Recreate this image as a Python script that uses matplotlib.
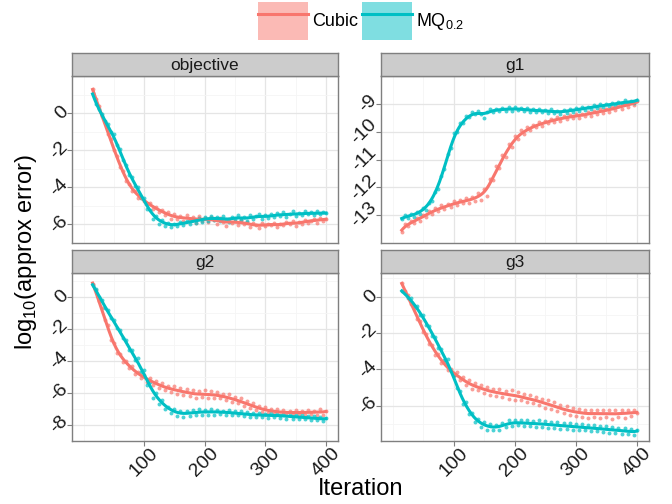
import numpy as np
import matplotlib
matplotlib.use('Agg')
import matplotlib.pyplot as plt
from matplotlib.patches import Patch
from matplotlib.lines import Line2D

plt.rcParams['font.family'] = ['Liberation Sans', 'DejaVu Sans']
plt.rcParams['axes.unicode_minus'] = False
plt.rcParams['mathtext.fontset'] = 'custom'
plt.rcParams['mathtext.rm'] = 'Liberation Sans'

RED = '#F8766D'
CYAN = '#00BFC4'

# iteration of each plotted point
iters = np.arange(15, 401, 5)

obj_cubic = [1.3, 0.75, 0.4, -0.15, -0.5, -1.1, -1.4, -2.0, -2.3, -2.9,
             -3.1, -3.65, -3.8, -4.2, -4.2, -4.55, -4.5, -4.75, -4.9, -4.85,
             -5.15, -5.05, -5.35, -5.2, -5.5, -5.35, -5.7, -5.45, -5.7, -5.55,
             -5.8, -5.5, -5.75, -5.6, -5.9, -5.55, -5.8, -5.65, -5.85, -5.6,
             -5.75, -5.95, -5.65, -5.85, -6.1, -5.7, -5.9, -5.8, -6.05, -5.75,
             -6.0, -5.85, -6.15, -5.9, -6.05, -6.2, -5.9, -6.1, -5.95, -6.05,
             -5.9, -6.15, -5.95, -6.05, -5.85, -6.0, -5.8, -6.1, -5.85, -5.95,
             -5.75, -5.9, -5.8, -5.7, -5.9, -5.65, -5.8, -5.7]
obj_mq = [1.1, 0.5, 0.2, -0.05, -0.45, -0.6, -1.0, -1.15, -1.7, -1.95,
          -2.55, -2.8, -3.35, -3.45, -3.95, -4.0, -4.55, -4.6, -5.15, -5.2,
          -5.7, -5.55, -5.95, -5.75, -6.1, -5.9, -6.15, -5.95, -6.1, -5.85,
          -6.05, -5.8, -5.95, -5.75, -5.9, -5.65, -5.85, -5.6, -5.8, -5.55,
          -5.75, -5.6, -5.8, -5.55, -5.75, -5.85, -5.6, -5.7, -5.5, -5.75,
          -5.6, -5.8, -5.5, -5.7, -5.55, -5.45, -5.7, -5.5, -5.65, -5.45,
          -5.6, -5.4, -5.55, -5.35, -5.6, -5.45, -5.3, -5.55, -5.4, -5.5,
          -5.3, -5.45, -5.35, -5.5, -5.3, -5.45, -5.35, -5.4]

g1_cubic = [-13.6, -13.3, -13.4, -13.2, -13.28, -13.1, -13.2, -12.98, -13.05, -12.85,
            -12.95, -12.75, -12.85, -12.65, -12.78, -12.6, -12.7, -12.5, -12.65, -12.45,
            -12.58, -12.4, -12.55, -12.35, -12.5, -12.2, -12.45, -12.05, -12.3, -11.7,
            -11.75, -11.25, -11.3, -10.85, -10.9, -10.45, -10.55, -10.15, -10.25, -9.95,
            -10.1, -9.85, -9.95, -9.75, -9.85, -9.65, -9.8, -9.6, -9.7, -9.55,
            -9.65, -9.48, -9.6, -9.45, -9.55, -9.4, -9.52, -9.38, -9.5, -9.35,
            -9.45, -9.3, -9.42, -9.25, -9.38, -9.2, -9.32, -9.18, -9.28, -9.12,
            -9.22, -9.05, -9.18, -9.0, -9.1, -8.95, -9.05, -8.9]
g1_mq = [-13.15, -13.0, -13.1, -12.95, -13.05, -12.9, -12.95, -12.75, -12.8, -12.55,
         -12.5, -12.15, -12.05, -11.6, -11.35, -10.8, -10.6, -10.05, -10.0, -9.7,
         -9.68, -9.45, -9.48, -9.3, -9.38, -9.25, -9.35, -9.5, -9.3, -9.2,
         -9.28, -9.18, -9.26, -9.15, -9.24, -9.13, -9.25, -9.12, -9.22, -9.15,
         -9.26, -9.16, -9.28, -9.18, -9.3, -9.2, -9.28, -9.22, -9.32, -9.2,
         -9.34, -9.24, -9.36, -9.22, -9.32, -9.18, -9.3, -9.15, -9.26, -9.12,
         -9.22, -9.1, -9.18, -9.05, -9.15, -9.02, -9.12, -9.0, -9.08, -8.98,
         -9.05, -8.92, -9.02, -8.88, -8.98, -8.9, -8.96, -8.85]

g2_cubic = [0.8, 0.4, -0.3, -0.7, -1.45, -1.8, -2.7, -2.9, -3.5, -3.55,
            -4.05, -4.0, -4.45, -4.35, -4.8, -4.7, -5.05, -4.9, -5.3, -5.1,
            -5.5, -5.25, -5.7, -5.4, -5.85, -5.55, -5.95, -5.6, -6.05, -5.7,
            -6.15, -5.75, -6.2, -5.85, -6.3, -5.9, -6.25, -5.85, -6.35, -5.9,
            -6.3, -5.95, -6.35, -6.05, -6.45, -6.1, -6.55, -6.25, -6.65, -6.35,
            -6.8, -6.5, -6.95, -6.65, -7.05, -6.8, -7.2, -6.9, -7.25, -7.0,
            -7.3, -7.0, -7.4, -7.05, -7.35, -7.1, -7.4, -7.05, -7.35, -7.1,
            -7.4, -7.05, -7.3, -7.1, -7.4, -7.0, -7.35, -7.1]
g2_mq = [0.7, 0.5, 0.0, -0.2, -0.7, -0.85, -1.35, -1.45, -1.95, -2.1,
         -2.6, -2.7, -3.3, -3.35, -3.95, -3.85, -4.7, -4.6, -5.5, -5.35,
         -6.3, -6.0, -6.7, -6.45, -7.0, -6.85, -7.25, -7.0, -7.45, -7.1,
         -7.5, -7.1, -7.45, -7.05, -7.4, -7.0, -7.35, -7.05, -7.35, -7.0,
         -7.35, -7.05, -7.3, -7.1, -7.35, -7.05, -7.4, -7.15, -7.4, -7.15,
         -7.45, -7.2, -7.5, -7.25, -7.5, -7.25, -7.5, -7.3, -7.55, -7.25,
         -7.5, -7.3, -7.55, -7.3, -7.6, -7.35, -7.6, -7.35, -7.65, -7.4,
         -7.65, -7.45, -7.7, -7.45, -7.7, -7.5, -7.75, -7.55]

g3_cubic = [0.75, 0.3, 0.1, -0.4, -0.6, -1.2, -1.35, -1.95, -2.05, -2.6,
            -2.65, -3.2, -3.15, -3.65, -3.6, -4.05, -3.95, -4.35, -4.15, -4.6,
            -4.4, -4.85, -4.6, -5.05, -4.75, -5.15, -4.85, -5.3, -4.95, -5.4,
            -5.05, -5.45, -5.1, -5.5, -5.2, -5.6, -5.15, -5.65, -5.25, -5.7,
            -5.35, -5.8, -5.4, -5.85, -5.5, -5.95, -5.6, -6.1, -5.7, -6.15,
            -5.8, -6.3, -5.95, -6.4, -6.0, -6.5, -6.1, -6.55, -6.15, -6.6,
            -6.2, -6.65, -6.25, -6.6, -6.2, -6.65, -6.25, -6.6, -6.2, -6.7,
            -6.25, -6.6, -6.2, -6.65, -6.2, -6.55, -6.25, -6.4]
g3_mq = [0.3, 0.2, -0.1, -0.05, -0.5, -0.5, -1.0, -1.0, -1.55, -1.6,
         -2.15, -2.2, -2.8, -2.85, -3.5, -3.4, -4.1, -4.3, -5.0, -5.2,
         -5.9, -5.8, -6.45, -6.4, -6.9, -6.7, -7.15, -6.9, -7.3, -7.0,
         -7.35, -7.05, -7.3, -6.95, -7.15, -6.8, -7.1, -6.75, -7.05, -6.8,
         -7.1, -6.8, -7.1, -6.85, -7.15, -6.8, -7.15, -6.85, -7.2, -6.9,
         -7.2, -6.9, -7.25, -6.95, -7.25, -6.95, -7.3, -7.0, -7.3, -7.0,
         -7.35, -7.05, -7.4, -7.05, -7.4, -7.1, -7.45, -7.1, -7.5, -7.15,
         -7.5, -7.2, -7.55, -7.2, -7.55, -7.25, -7.6, -7.3]

panel_names = ['objective', 'g1', 'g2', 'g3']
panel_cubic = [obj_cubic, g1_cubic, g2_cubic, g3_cubic]
panel_mq = [obj_mq, g1_mq, g2_mq, g3_mq]
panel_yticks = [[0, -2, -4, -6], [-9, -10, -11, -12, -13],
                [0, -2, -4, -6, -8], [0, -2, -4, -6]]
panel_ylim = [(-6.83, 2.0), (-13.9, -8.51), (-8.3, 1.47), (-7.93, 1.3)]
xticks = [100, 200, 300, 400]


def smooth(x, y, bw=8.0):
    '''local linear fit with a gaussian kernel, like a loess line'''
    x = np.asarray(x, float)
    y = np.asarray(y, float)
    xs = np.linspace(x.min(), x.max(), 300)
    ys = []
    for x0 in xs:
        w = np.exp(-0.5 * ((x - x0) / bw) ** 2)
        A = np.vstack([np.ones_like(x), x - x0]).T
        WA = A.T * w
        beta = np.linalg.solve(WA @ A, WA @ y)
        ys.append(beta[0])
    return xs, np.array(ys)


W, H = 672, 504
fig = plt.figure(figsize=(W / 100, H / 100), dpi=100)

# panel boxes in pixels: left, right, top, bottom
cols = [(72, 338), (381, 649)]
rows = [(76, 243), (273, 441)]
strip_h = 23

for i, name in enumerate(panel_names):
    r, c = divmod(i, 2)
    x0, x1 = cols[c]
    y0, y1 = rows[r]
    ax = fig.add_axes([x0 / W, 1 - y1 / H, (x1 - x0) / W, (y1 - y0) / H])
    ax.set_facecolor('white')

    ax.scatter(iters, panel_cubic[i], s=8, color=RED, alpha=0.7, lw=0, zorder=2)
    ax.scatter(iters, panel_mq[i], s=8, color=CYAN, alpha=0.7, lw=0, zorder=2)
    xs, ys = smooth(iters, panel_cubic[i])
    ax.plot(xs, ys, color=RED, lw=2.2, zorder=3)
    xs, ys = smooth(iters, panel_mq[i])
    ax.plot(xs, ys, color=CYAN, lw=2.2, zorder=3)

    ax.set_xlim(-19, 420)
    ax.set_ylim(*panel_ylim[i])
    ax.set_xticks(xticks)
    ax.set_xticks([0, 50, 150, 250, 350], minor=True)
    yt = panel_yticks[i]
    ax.set_yticks(yt)
    ax.set_yticks([v - 1 for v in yt] + [yt[0] + 1], minor=True)
    ax.grid(True, which='major', color='#E5E5E5', lw=0.9, zorder=0)
    ax.grid(True, which='minor', color='#F5F5F5', lw=0.6, zorder=0)
    ax.set_axisbelow(True)
    for s in ax.spines.values():
        s.set_color('#7F7F7F')
        s.set_linewidth(1.0)
    ax.tick_params(which='minor', length=0)
    ax.tick_params(which='major', direction='out', length=3.5, width=0.8,
                   color='#7F7F7F', labelsize=14, labelcolor='#1A1A1A')
    ax.tick_params(axis='y', pad=-3)
    ax.tick_params(axis='x', pad=-1)
    for lab in ax.get_yticklabels():
        lab.set_rotation(45)
        lab.set_ha('right')
        lab.set_va('center')
    if r == 0:
        ax.tick_params(axis='x', which='major', length=0, labelbottom=False)
    else:
        for lab in ax.get_xticklabels():
            lab.set_rotation(45)
            lab.set_ha('center')
            lab.set_va('top')

    # facet strip
    sax = fig.add_axes([x0 / W, 1 - y0 / H, (x1 - x0) / W, strip_h / H])
    sax.set_facecolor('#CCCCCC')
    sax.set_xticks([])
    sax.set_yticks([])
    for s in sax.spines.values():
        s.set_color('#7F7F7F')
        s.set_linewidth(1.0)
    sax.text(0.5, 0.45, name, ha='center', va='center', fontsize=12.5,
             color='#1A1A1A', transform=sax.transAxes)

handles = [(Patch(facecolor=RED, alpha=0.5, lw=0), Line2D([], [], color=RED, lw=2.2)),
           (Patch(facecolor=CYAN, alpha=0.5, lw=0), Line2D([], [], color=CYAN, lw=2.2))]
fig.legend(handles, ['Cubic', r'MQ$_{\mathrm{0.2}}$'], loc='upper center',
           bbox_to_anchor=(0.537, 1.0), ncol=2, frameon=False, fontsize=13,
           handlelength=2.8, handleheight=2.85, handletextpad=0.2,
           columnspacing=0.2, borderaxespad=0.0, borderpad=0.1)

fig.text(0.536, 0.029, 'Iteration', ha='center', va='center', fontsize=17)
fig.text(0.039, 0.5, r'log$_{\mathrm{10}}$(approx error)', ha='center',
         va='center', rotation=90, fontsize=17)

fig.savefig('out.png', dpi=100)
